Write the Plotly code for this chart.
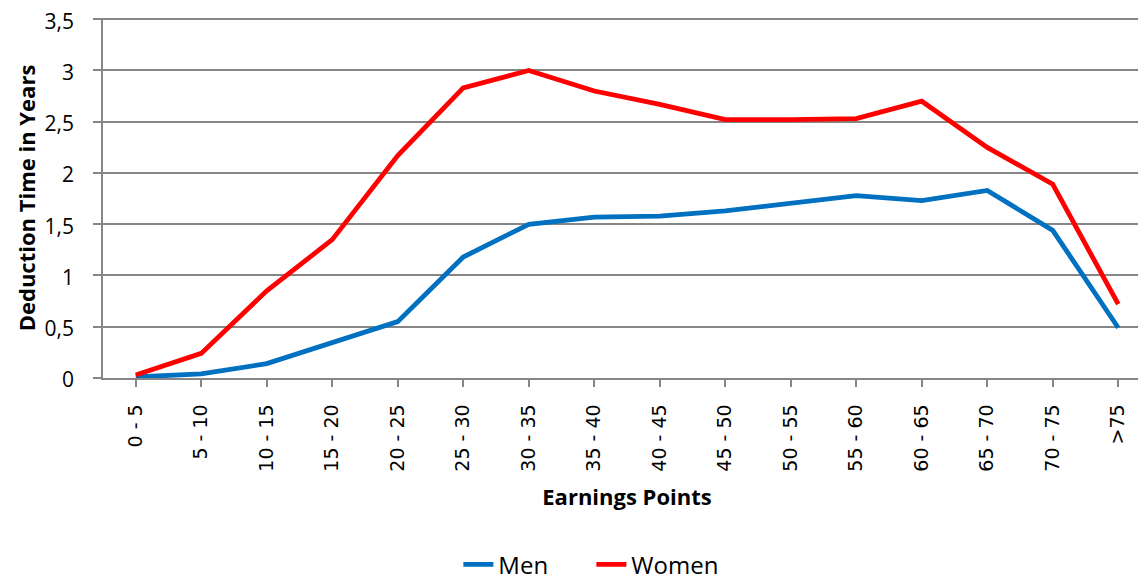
import plotly.graph_objects as go

categories = ["0 - 5", "5 - 10", "10 - 15", "15 - 20", "20 - 25", "25 - 30", "30 - 35",
              "35 - 40", "40 - 45", "45 - 50", "50 - 55", "55 - 60", "60 - 65", "65 - 70",
              "70 - 75", ">75"]
men = [0.01, 0.04, 0.14, 0.34, 0.55, 1.18, 1.50, 1.57, 1.58, 1.63, 1.71, 1.78, 1.73, 1.83, 1.44, 0.49]
women = [0.03, 0.24, 0.85, 1.35, 2.17, 2.83, 3.00, 2.80, 2.67, 2.52, 2.52, 2.53, 2.70, 2.25, 1.89, 0.72]
y_ticks = [0, 0.5, 1, 1.5, 2, 2.5, 3, 3.5]
y_tick_text = ["0", "0,5", "1", "1,5", "2", "2,5", "3", "3,5"]

grid = "#868686"
fig = go.Figure()
fig.add_trace(go.Scatter(x=list(range(len(categories))), y=men, name="Men", mode="lines",
                         line=dict(color="#0070C0", width=4.8)))
fig.add_trace(go.Scatter(x=list(range(len(categories))), y=women, name="Women", mode="lines",
                         line=dict(color="#FF0000", width=4.8)))

# top gridline (plotly drops gridlines lying on the plot edge)
fig.add_shape(type="line", xref="paper", yref="y", x0=0, x1=1,
              y0=y_ticks[-1], y1=y_ticks[-1], line=dict(color=grid, width=1.5), layer="below")

fig.update_layout(
    width=1146, height=583,
    margin=dict(l=95, r=3, t=10, b=209),
    plot_bgcolor="white", paper_bgcolor="white",
    font=dict(family="Open Sans, DejaVu Sans, sans-serif", color="black"),
    showlegend=True,
    legend=dict(orientation="h", x=0.466, xanchor="center", y=-0.519, yanchor="middle",
                font=dict(size=24, family="Open Sans"),
                entrywidth=88, entrywidthmode="pixels"),
    xaxis=dict(
        tickmode="array", tickvals=list(range(len(categories))), ticktext=categories,
        range=[-0.5, 15.5], tickangle=-90,
        tickfont=dict(family="DejaVu Sans", size=19),
        showline=True, linecolor=grid, linewidth=1.5, showgrid=False,
        ticks="outside", ticklen=7, tickcolor=grid, tickwidth=1.5, tickson="boundaries",
        ticklabelstandoff=10,
        title=dict(text="<b>Earnings Points</b>", font=dict(size=22, family="Open Sans"), standoff=19),
        zeroline=False, automargin=False,
    ),
    yaxis=dict(
        tickmode="array", tickvals=y_ticks, ticktext=y_tick_text, range=[0, 3.512],
        tickfont=dict(size=21, family="Open Sans"),
        showgrid=True, gridcolor=grid, gridwidth=1.5,
        showline=True, linecolor=grid, linewidth=1.5,
        ticks="outside", ticklen=8, tickcolor=grid, tickwidth=1.5,
        ticklabelstandoff=15, ticklabeloverflow="allow", ticklabelshift=2,
        title=dict(text="<b>Deduction Time in Years</b>", font=dict(size=22, family="Open Sans"), standoff=3),
        zeroline=False, automargin=False,
    ),
)

fig.write_html("out.html")
